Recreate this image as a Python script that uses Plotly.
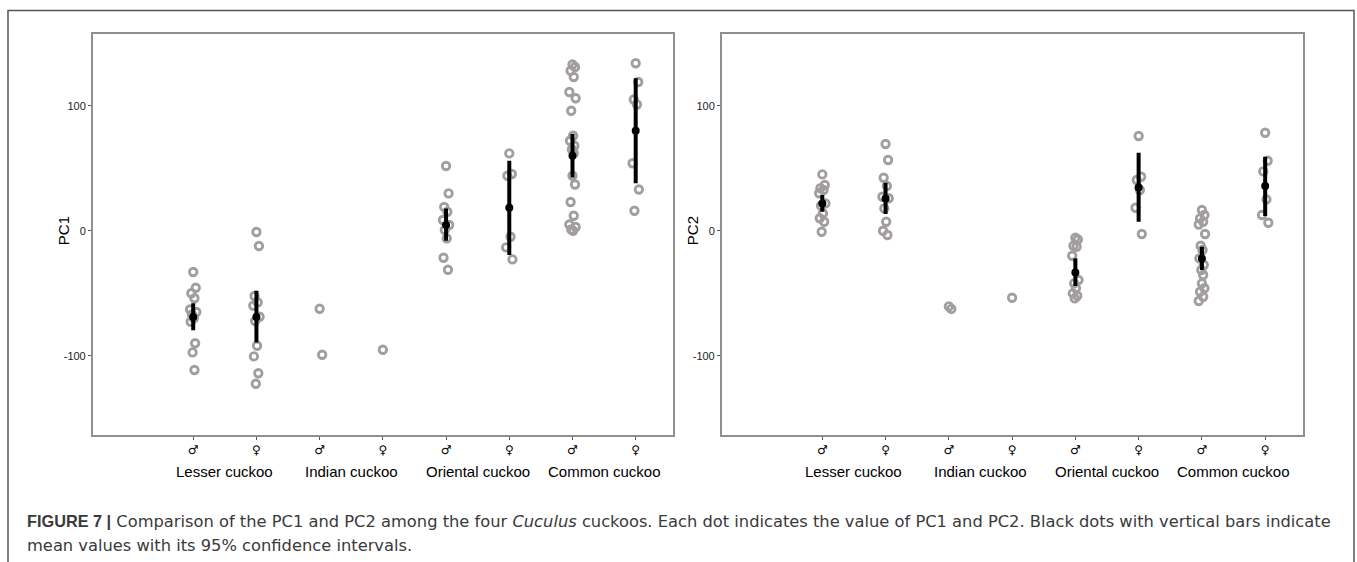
import plotly.graph_objects as go

# ---------------- data ----------------
species = ["Lesser cuckoo", "Indian cuckoo", "Oriental cuckoo", "Common cuckoo"]
sex_ticks = ["♂", "♀", "♂", "♀", "♂", "♀", "♂", "♀"]

pc1_groups = [
    [-33, -45.6, -50, -54, -63, -65, -67, -70, -72.8, -90, -97.3, -111.4],   # lesser m
    [-1, -12.2, -52.2, -57.3, -60, -68.8, -72.2, -92, -100.5, -114, -122.4],  # lesser f
    [-62.4, -99.2],                                                          # indian m
    [-95.2],                                                                 # indian f
    [51.8, 29.9, 19, 15.2, 8.6, 4.6, 0.6, -6.1, -21.6, -31.2],               # oriental m
    [61.9, 45.4, 44, -4.8, -13.3, -22.9],                                    # oriental f
    [133, 131, 128, 123, 111, 106, 96, 76, 72, 68, 65, 62, 44, 37, 23, 12, 5, 3, 1, 0],  # common m
    [134, 119, 105, 101, 54, 33, 16],                                        # common f
]
pc1_mean = [-69, -69, None, None, 4.6, 18.4, 60, 80]
pc1_low = [-79.5, -89.3, None, None, -8, -19.4, 42.7, 38]
pc1_high = [-58, -48, None, None, 17.9, 56, 77.4, 122]

pc2_groups = [
    [45.1, 36.6, 34, 32.6, 30, 21.9, 20, 13.9, 10, 7.2, -0.8],
    [69.4, 56.6, 42.4, 35.8, 27.2, 26, 17.9, 7.2, 0, -3.4],
    [-60.5, -62.5],
    [-53.6],
    [-5.6, -7, -12, -12.8, -20, -39.4, -42.1, -46, -50.1, -52, -54.1],
    [75.8, 43.2, 40.6, 32.6, 18.4, -2.6],
    [16.6, 12.6, 9.9, 7.2, 5, -2.6, -12, -15.4, -22.1, -27.4, -31.4, -35.4, -42.1, -46, -48.8, -52.8, -56.2],
    [78.4, 56, 47.5, 25.1, 12.6, 6.4],
]
pc2_mean = [21.9, 25.9, None, None, -33.3, 34.7, -22.1, 35.8]
pc2_low = [15.2, 13.4, None, None, -44.2, 7.2, -31.4, 11.8]
pc2_high = [28.6, 38.4, None, None, -22.1, 62.4, -12.8, 59.2]

# small horizontal jitter pattern (styling only)
jitter = [0.0, 0.04, -0.03, 0.02, -0.05, 0.05, -0.02, 0.01, -0.04, 0.03, -0.01, 0.02]

# ---------------- figure ----------------
W, H = 1357, 562
fig = go.Figure()

GRAY = "#a39e9e"
AXC = "#8f8f8f"

panels = [
    ("x", "y", pc1_groups, pc1_mean, pc1_low, pc1_high),
    ("x2", "y2", pc2_groups, pc2_mean, pc2_low, pc2_high),
]

for xa, ya, groups, means, lows, highs in panels:
    for gi, vals in enumerate(groups):
        pos = gi + 1
        xs = [pos + jitter[i % len(jitter)] for i in range(len(vals))]
        fig.add_trace(go.Scatter(
            x=xs, y=vals, mode="markers", xaxis=xa, yaxis=ya,
            marker=dict(symbol="circle-open", size=7.5, color=GRAY,
                        line=dict(width=2.8, color=GRAY)),
            showlegend=False, hoverinfo="y"))
    mx, my, ep, em = [], [], [], []
    for gi, m in enumerate(means):
        if m is None:
            continue
        mx.append(gi + 1)
        my.append(m)
        ep.append(highs[gi] - m)
        em.append(m - lows[gi])
    fig.add_trace(go.Scatter(
        x=mx, y=my, mode="markers", xaxis=xa, yaxis=ya,
        marker=dict(symbol="circle", size=8, color="black"),
        error_y=dict(type="data", symmetric=False, array=ep, arrayminus=em,
                     thickness=4, width=0, color="black"),
        showlegend=False))

y0 = (H - 435) / H
y1 = (H - 34) / H
xd1 = [92.7 / W, 673 / W]
xd2 = [721.7 / W, 1302.5 / W]

axis_common = dict(showgrid=False, zeroline=False, showline=True, linecolor=AXC,
                   linewidth=1.5, mirror=True, ticks="outside", ticklen=3,
                   tickcolor="#555", tickwidth=1)

xcommon = dict(axis_common, range=[-0.59, 8.59], tickmode="array",
               tickvals=list(range(1, 9)), ticktext=sex_ticks,
               tickfont=dict(family="DejaVu Sans", size=12, color="black"))
ycommon = dict(axis_common, range=[-163.4, 157.4], tickmode="array",
               tickvals=[-100, 0, 100], ticktext=["-100", "0", "100"],
               tickfont=dict(family="Liberation Sans", size=11, color="#222"))

fig.update_layout(
    width=W, height=H, margin=dict(l=0, r=0, t=0, b=0),
    paper_bgcolor="white", plot_bgcolor="white",
    xaxis=dict(xcommon, domain=xd1, anchor="y"),
    yaxis=dict(ycommon, domain=[y0, y1], anchor="x"),
    xaxis2=dict(xcommon, domain=xd2, anchor="y2"),
    yaxis2=dict(ycommon, domain=[y0, y1], anchor="x2"),
)

ann = []
for xa in ["x", "x2"]:
    for si, name in enumerate(species):
        ann.append(dict(x=2 * si + 1.5, xref=xa, y=(H - 471) / H, yref="paper",
                        text=name, showarrow=False, xanchor="center", yanchor="middle",
                        font=dict(family="Liberation Sans", size=15, color="black")))

# y-axis titles
for txt, xpix in [("PC1", 63.5), ("PC2", 692.5)]:
    ann.append(dict(x=xpix / W, xref="paper", y=(H - 230.7) / H, yref="paper",
                    text=txt, textangle=-90, showarrow=False,
                    xanchor="center", yanchor="middle",
                    font=dict(family="Liberation Sans", size=15, color="black")))

cap1 = ("<b>FIGURE 7 |</b> Comparison of the PC1 and PC2 among the four <i>Cuculus</i> cuckoos. "
        "Each dot indicates the value of PC1 and PC2. Black dots with vertical bars indicate")
cap2 = "mean values with its 95% confidence intervals."
ann.append(dict(x=25 / W, xref="paper", y=(H - 521) / H, yref="paper",
                text=cap1.replace("<b>FIGURE 7 |</b>",
                                  "<b><span style='font-family:Liberation Sans'>FIGURE 7 |</span></b>"),
                showarrow=False, xanchor="left", yanchor="middle",
                font=dict(family="DejaVu Sans", size=16.3, color="#3a3a3a")))
ann.append(dict(x=25 / W, xref="paper", y=(H - 545) / H, yref="paper", text=cap2,
                showarrow=False, xanchor="left", yanchor="middle",
                font=dict(family="DejaVu Sans", size=16.3, color="#3a3a3a")))
fig.update_layout(annotations=ann)

# outer frame
fig.add_shape(type="rect", xref="paper", yref="paper",
              x0=8 / W, x1=1354 / W, y0=-0.05, y1=(H - 10.5) / H,
              line=dict(color="#555", width=1.5), fillcolor="rgba(0,0,0,0)")

fig.write_html("out.html")
